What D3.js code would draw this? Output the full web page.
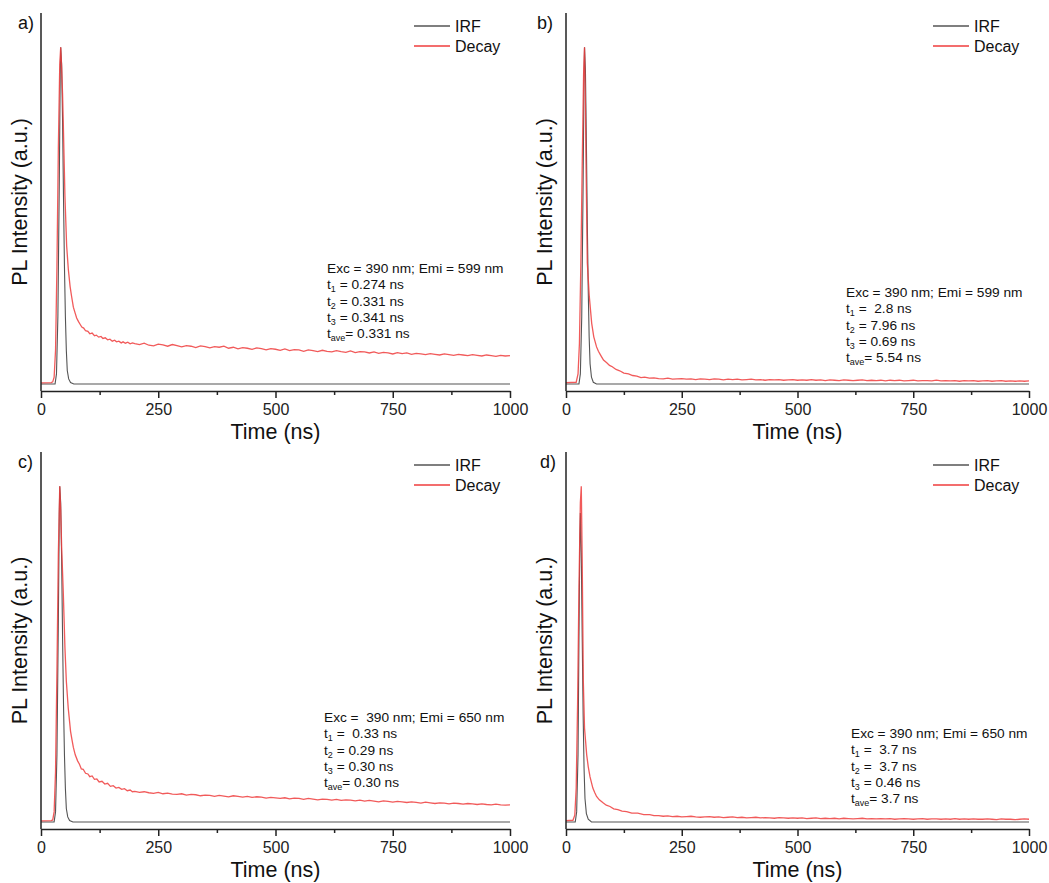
<!DOCTYPE html>
<html>
<head>
<meta charset="utf-8">
<script src="https://cdn.jsdelivr.net/npm/d3@7"></script>
<style>
  body { margin: 0; background: #fff; }
  svg { font-family: 'Liberation Sans', Arial, sans-serif; }
</style>
</head>
<body>
<div id="chart"></div>
<script>
// time axis ticks
var majorTicks = [0, 250, 500, 750, 1000]
var minorTicks = [125, 375, 625, 875]

// shared sampling times for the long tails (ns)
var tailTimes = [200,210,220,230,240,250,260,270,280,290,
  300,310,320,330,340,350,360,370,380,390,
  400,410,420,430,440,450,460,470,480,490,
  500,510,520,530,540,550,560,570,580,590,
  600,610,620,630,640,650,660,670,680,690,
  700,710,720,730,740,750,760,770,780,790,
  800,810,820,830,840,850,860,870,880,890,
  900,910,920,930,940,950,960,970,980,990,1000]

// IRF curves [time, normalized intensity]
var irfA = [[0,0],[30,0],[33,0.03],[36,0.2],[39,0.6],[41,0.92],[42,1.0],[44,0.95],[46,0.78],[48,0.55],[50,0.35],[52,0.2],[54,0.1],[56,0.04],[59,0.015],[63,0.004],[70,0],[1000,0]]
var irfB = [[0,0],[28,0],[31,0.03],[34,0.2],[37,0.6],[39,0.92],[40,1.0],[42,0.93],[44,0.72],[46,0.48],[48,0.28],[50,0.14],[52,0.06],[55,0.02],[59,0.005],[66,0],[1000,0]]
var irfC = [[0,0],[28,0],[31,0.03],[34,0.2],[37,0.6],[39,0.92],[40,1.0],[42,0.95],[44,0.78],[46,0.55],[48,0.35],[50,0.2],[52,0.1],[54,0.04],[57,0.015],[61,0.004],[68,0],[1000,0]]
var irfD = [[0,0],[20,0],[23,0.03],[26,0.2],[28,0.55],[30,0.85],[31,0.92],[33,0.8],[35,0.55],[37,0.32],[39,0.16],[41,0.07],[44,0.025],[48,0.008],[55,0],[1000,0]]

// decay curves, rise + fast part [time, normalized intensity]
var decayHeadA = [[0,0.003],[22,0.004],[25,0.006],[28,0.02],[31,0.1],[34,0.35],[37,0.7],[40,0.95],[42,1.0],[44,0.94],[46,0.86],[47.6,0.77],[51,0.56],[54.7,0.41],[58.3,0.34],[62,0.29],[65,0.262],[69,0.228],[72.5,0.212],[76,0.196],[80,0.185],[83,0.178],[87,0.169],[91,0.166],[95,0.158],[100,0.156],[104,0.149],[109,0.151],[114,0.143],[118,0.145],[123,0.139],[128,0.141],[132,0.135],[137,0.137],[142,0.131],[147,0.133],[152,0.127],[157,0.130],[161,0.125],[166,0.127],[171,0.122],[175,0.125],[180,0.121],[185,0.124],[190,0.119],[195,0.122]]
var decayHeadB = [[0,0.004],[22,0.005],[26,0.03],[29,0.12],[32,0.35],[35,0.65],[38,0.92],[40,1.0],[42,0.82],[43.2,0.66],[46,0.36],[50.3,0.26],[55.5,0.18],[60,0.14],[66,0.11],[70,0.097],[75,0.085],[81,0.071],[88,0.063],[94,0.055],[100,0.051],[108,0.043],[116,0.039],[125,0.032],[135,0.030],[144,0.025],[153,0.023],[162,0.019],[170,0.020],[180,0.017],[190,0.018]]
var decayHeadC = [[0,0.003],[22,0.004],[25,0.006],[28,0.03],[31,0.15],[34,0.45],[37,0.8],[40,1.0],[42,0.93],[44,0.82],[47.6,0.68],[51,0.52],[54,0.42],[58,0.34],[63,0.27],[66,0.245],[69,0.222],[73,0.2],[78,0.182],[82,0.172],[86,0.158],[90,0.157],[95,0.145],[100,0.143],[104,0.135],[109,0.137],[114,0.127],[119,0.128],[124,0.119],[130,0.121],[136,0.113],[142,0.115],[148,0.106],[154,0.108],[160,0.101],[166,0.103],[172,0.097],[178,0.099],[184,0.093],[190,0.095],[195,0.09]]
var decayHeadD = [[0,0.004],[15,0.005],[19,0.02],[22,0.1],[25,0.35],[28,0.7],[31,0.95],[33,1.0],[35,0.78],[37.4,0.42],[40,0.28],[44.7,0.2],[48,0.165],[51.8,0.135],[55,0.117],[58,0.101],[62,0.088],[66,0.076],[72,0.066],[80,0.057],[87,0.05],[95,0.046],[103,0.039],[112,0.037],[121,0.032],[131,0.031],[142,0.026],[155,0.026],[168,0.022],[181,0.022],[190,0.019]]

// decay tails at tailTimes
var decayTailA = [0.120,0.117,0.121,0.115,0.113,0.118,0.116,0.112,0.117,0.114,
  0.110,0.114,0.112,0.108,0.113,0.111,0.107,0.111,0.109,0.112,
  0.106,0.109,0.104,0.108,0.106,0.103,0.107,0.105,0.101,0.105,
  0.103,0.100,0.104,0.099,0.102,0.101,0.097,0.101,0.099,0.096,
  0.100,0.097,0.095,0.099,0.096,0.094,0.098,0.093,0.096,0.095,
  0.092,0.095,0.091,0.094,0.092,0.089,0.093,0.090,0.092,0.088,
  0.091,0.089,0.087,0.090,0.088,0.086,0.089,0.087,0.085,0.088,
  0.086,0.084,0.087,0.085,0.083,0.086,0.084,0.082,0.085,0.083,0.084]
var decayTailB = [0.016,0.015,0.017,0.014,0.015,0.016,0.014,0.015,0.013,0.015,
  0.014,0.013,0.015,0.014,0.012,0.014,0.013,0.014,0.012,0.013,
  0.014,0.012,0.013,0.011,0.013,0.012,0.013,0.011,0.012,0.013,
  0.011,0.012,0.011,0.013,0.011,0.012,0.010,0.012,0.011,0.010,
  0.012,0.011,0.010,0.011,0.012,0.010,0.011,0.010,0.011,0.009,
  0.011,0.010,0.011,0.009,0.010,0.011,0.009,0.010,0.010,0.009,
  0.011,0.009,0.010,0.009,0.010,0.008,0.010,0.009,0.010,0.008,
  0.009,0.010,0.008,0.009,0.010,0.008,0.009,0.008,0.009,0.008,0.009]
var decayTailC = [0.091,0.088,0.090,0.087,0.085,0.088,0.084,0.086,0.083,0.082,
  0.084,0.080,0.082,0.081,0.078,0.080,0.079,0.076,0.079,0.077,
  0.075,0.078,0.076,0.074,0.076,0.073,0.075,0.074,0.071,0.073,
  0.072,0.070,0.072,0.069,0.071,0.070,0.067,0.070,0.068,0.066,
  0.068,0.067,0.065,0.067,0.064,0.066,0.065,0.063,0.065,0.062,
  0.064,0.062,0.060,0.063,0.061,0.059,0.061,0.060,0.058,0.060,
  0.058,0.056,0.059,0.057,0.055,0.057,0.056,0.054,0.056,0.055,
  0.053,0.055,0.054,0.052,0.054,0.052,0.051,0.053,0.051,0.050,0.051]
var decayTailD = [0.019,0.017,0.018,0.016,0.017,0.015,0.016,0.017,0.015,0.014,
  0.015,0.016,0.014,0.015,0.013,0.014,0.015,0.013,0.014,0.012,
  0.013,0.014,0.012,0.013,0.012,0.011,0.013,0.012,0.011,0.012,
  0.011,0.012,0.010,0.011,0.012,0.010,0.011,0.010,0.011,0.009,
  0.011,0.010,0.009,0.010,0.011,0.009,0.010,0.009,0.010,0.009,
  0.010,0.008,0.009,0.010,0.009,0.008,0.009,0.010,0.008,0.009,
  0.009,0.008,0.009,0.008,0.010,0.008,0.009,0.008,0.009,0.008,
  0.008,0.009,0.008,0.007,0.009,0.008,0.008,0.007,0.008,0.009,0.008]

// fit annotations
var notesA = ['Exc = 390 nm; Emi = 599 nm', ['1', ' = 0.274 ns'], ['2', ' = 0.331 ns'], ['3', ' = 0.341 ns'], ['ave', '= 0.331 ns']]
var notesB = ['Exc = 390 nm; Emi = 599 nm', ['1', ' =  2.8 ns'], ['2', ' = 7.96 ns'], ['3', ' = 0.69 ns'], ['ave', '= 5.54 ns']]
var notesC = ['Exc =  390 nm; Emi = 650 nm', ['1', ' =  0.33 ns'], ['2', ' = 0.29 ns'], ['3', ' = 0.30 ns'], ['ave', '= 0.30 ns']]
var notesD = ['Exc = 390 nm; Emi = 650 nm', ['1', ' =  3.7 ns'], ['2', ' =  3.7 ns'], ['3', ' = 0.46 ns'], ['ave', '= 3.7 ns']]

var legendNames = ['IRF', 'Decay']

var red = '#ef3d3d'
var grey = '#555555'

var svg = d3
  .select('#chart')
  .append('svg')
  .attr('width', 1049)
  .attr('height', 883)

var panels = [
  { label: 'a)', lx: 18, irf: irfA, head: decayHeadA, tail: decayTailA, notes: notesA, nx: 327, ny: 273, left: 41, right: 510, top: 13, bottom: 391 },
  { label: 'b)', lx: 537, irf: irfB, head: decayHeadB, tail: decayTailB, notes: notesB, nx: 846, ny: 297, left: 566, right: 1029, top: 13, bottom: 391 },
  { label: 'c)', lx: 18, irf: irfC, head: decayHeadC, tail: decayTailC, notes: notesC, nx: 324, ny: 722, left: 41, right: 510, top: 452, bottom: 829 },
  { label: 'd)', lx: 540, irf: irfD, head: decayHeadD, tail: decayTailD, notes: notesD, nx: 851, ny: 738, left: 566, right: 1029, top: 452, bottom: 829 }
]

panels.forEach(function(p) {
  var g = svg.append('g')

  var x = d3.scaleLinear().domain([0, 1000]).range([p.left, p.right])
  var y = d3.scaleLinear().domain([-0.021, 1.102]).range([p.bottom, p.top])

  var line = d3
    .line()
    .x(d => x(d[0]))
    .y(d => y(d[1]))

  var decay = p.head.concat(tailTimes.map((t, i) => [t, p.tail[i]]))

  g.append('path')
    .datum(p.irf)
    .attr('d', line)
    .attr('fill', 'none')
    .attr('stroke', grey)
    .attr('stroke-width', 1.1)

  // decay on top, slightly see-through so the IRF shows inside the peak
  g.append('path')
    .datum(decay)
    .attr('d', line)
    .attr('fill', 'none')
    .attr('stroke', red)
    .attr('stroke-opacity', 0.85)
    .attr('stroke-width', 1.3)

  // left axis line only
  g.append('line')
    .attr('x1', p.left).attr('x2', p.left)
    .attr('y1', p.top).attr('y2', p.bottom)
    .attr('stroke', '#222')
    .attr('stroke-width', 1.5)

  // bottom axis
  var xAxis = d3.axisBottom(x).tickValues(majorTicks).tickSize(7).tickSizeOuter(0).tickPadding(6).tickFormat(d3.format('d'))
  var ax = g.append('g')
    .attr('transform', `translate(0,${p.bottom})`)
    .call(xAxis)
  ax.select('.domain').attr('stroke', '#222').attr('stroke-width', 1.5)
  ax.selectAll('.tick line').attr('stroke', '#222').attr('stroke-width', 1.5)
  ax.selectAll('.tick text')
    .attr('fill', '#222')
    .style('font-size', '16px')
    .style('font-family', "'Liberation Sans', Arial, sans-serif")

  var minorAxis = d3.axisBottom(x).tickValues(minorTicks).tickSize(4).tickSizeOuter(0).tickFormat('')
  var mx = g.append('g')
    .attr('transform', `translate(0,${p.bottom})`)
    .call(minorAxis)
  mx.select('.domain').remove()
  mx.selectAll('.tick line').attr('stroke', '#222').attr('stroke-width', 1.5)

  // axis titles
  g.append('text')
    .attr('x', (p.left + p.right) / 2)
    .attr('y', p.bottom + 48)
    .attr('text-anchor', 'middle')
    .attr('fill', '#111')
    .style('font-size', '21.5px')
    .text('Time (ns)')

  g.append('text')
    .attr('transform', `translate(${p.left - 21},${(p.top + p.bottom) / 2}) rotate(-90)`)
    .attr('text-anchor', 'middle')
    .attr('dominant-baseline', 'central')
    .attr('fill', '#111')
    .style('font-size', '21.5px')
    .text('PL Intensity (a.u.)')

  // panel label
  g.append('text')
    .attr('x', p.lx)
    .attr('y', p.top + 16)
    .attr('fill', '#111')
    .style('font-size', '18px')
    .text(p.label)

  // legend
  legendNames.forEach(function(name, i) {
    var ly = p.top + 13 + i * 20
    g.append('line')
      .attr('x1', p.right - 96).attr('x2', p.right - 60)
      .attr('y1', ly).attr('y2', ly)
      .attr('stroke', i === 0 ? grey : red)
      .attr('stroke-width', 1.3)
    g.append('text')
      .attr('x', p.right - 55)
      .attr('y', ly + 6)
      .attr('fill', '#111')
      .style('font-size', '16px')
      .text(name)
  })

  // fit notes
  p.notes.forEach(function(n, i) {
    var t = g.append('text')
      .attr('x', p.nx)
      .attr('y', p.ny + i * 16.3)
      .attr('fill', '#111')
      .style('font-size', '13.7px')
      .style('white-space', 'pre')
    if (typeof n === 'string') {
      t.text(n)
    } else {
      t.append('tspan').text('t')
      t.append('tspan').attr('dy', 3).style('font-size', '9px').text(n[0])
      t.append('tspan').attr('dy', -3).text(n[1])
    }
  })
})
</script>
</body>
</html>
